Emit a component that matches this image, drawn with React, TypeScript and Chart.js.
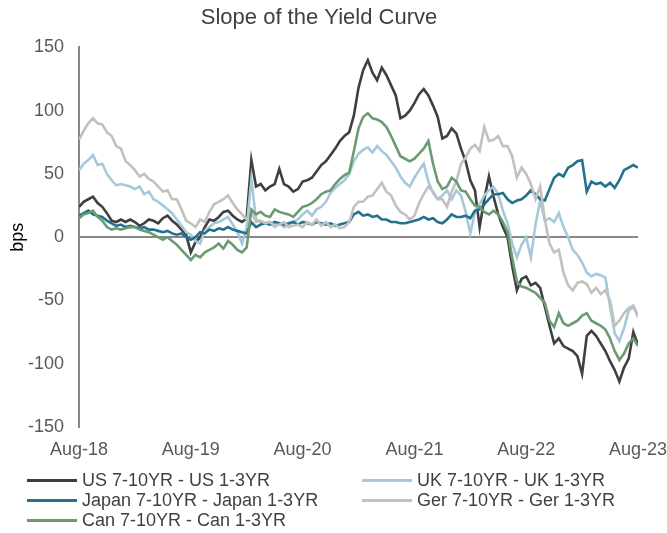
import React, { useEffect, useRef } from "react";
import { Chart, registerables } from "chart.js";

Chart.register(...registerables);

// ---------- text ----------
const TITLE = "Slope of the Yield Curve";
const Y_TITLE = "bps";
const X_TICK_LABELS = ["Aug-18", "Aug-19", "Aug-20", "Aug-21", "Aug-22", "Aug-23"];
const MONTHS_PER_TICK = 12;
const STEP_MONTHS = 0.5; // readings every half month from Aug-18 to Aug-23

// ---------- data (bps), one reading per half month ----------
const US = [
  24, 28, 30, 32, 27, 24, 19, 13, 12, 14,
  12, 14, 12, 9, 11, 14, 13, 11, 15, 17,
  13, 10, 6, 2, -12, -4, 0, 8, 14, 13,
  16, 20, 21, 17, 14, 12, 15, 61, 40, 42,
  37, 40, 42, 54, 42, 40, 36, 38, 44, 45,
  47, 52, 57, 60, 65, 70, 76, 80, 83, 96,
  118, 132, 140, 130, 124, 134, 128, 120, 112, 94,
  96, 100, 106, 113, 117, 112, 104, 95, 78, 80,
  86, 82, 70, 60, 45, 37, 8, 30, 48, 32,
  18, 8, 0, -23, -42, -33, -31, -38, -36, -40,
  -55, -70, -84, -80, -86, -88, -90, -94, -108, -78,
  -74, -78, -84, -90, -98, -105, -114, -103, -96, -75,
  -85,
];
const UK = [
  53, 58, 61, 65, 57, 58, 50, 45, 41, 42,
  41, 40, 38, 40, 34, 36, 30, 28, 25, 22,
  19, 14, 9, 4, 2, -3, -5, 5, 8, 11,
  12, 14, 16, 10, 4, -5, 8, 46, 14, 12,
  11, 12, 8, 11, 8, 10, 12, 14, 18, 21,
  17, 22, 24, 28, 35, 39, 42, 45, 50, 60,
  66, 69, 71, 67, 72, 68, 65, 60, 55, 48,
  43, 40, 47, 53, 58, 44, 35, 30, 33, 37,
  30, 37, 33, 20, 3, 20, 26, 33, 37, 40,
  34, 21, 11, -5, -16, -6, 0, -16, 10, 29,
  13, 15, 12, 19, 8, 0, -10, -14, -20, -28,
  -31, -29, -30, -32, -55, -76, -82, -72, -58, -55,
  -63,
];
const JAPAN = [
  17, 19, 21, 18, 17, 16, 13, 11, 9, 10,
  8, 9, 8, 7, 8, 6, 6, 5, 4, 5,
  3, 2, 3, 0, -2, 0, 4, 3, 6, 5,
  7, 6, 8, 6, 5, 4, 3, 12, 8, 10,
  11, 10, 12, 11, 10, 11, 12, 10, 12, 11,
  10, 12, 11, 10, 11, 9, 10, 11, 12, 18,
  20, 17, 18, 16, 17, 14, 14, 12, 12, 11,
  11, 12, 13, 14, 16, 14, 15, 12, 11, 14,
  18, 16, 16, 17, 15, 21, 22, 26, 30, 34,
  34, 35, 30, 27, 29, 30, 33, 37, 34, 30,
  29, 38, 47, 50, 48, 55, 57, 60, 61, 36,
  44, 42, 43, 40, 43, 39, 45, 53, 55, 57,
  55,
];
const GER = [
  77, 84, 90, 94, 90, 89, 83, 80, 72, 70,
  60, 57, 53, 48, 50, 46, 44, 40, 36, 37,
  30, 30, 22, 13, 11, 8, 14, 12, 20, 26,
  28, 30, 33, 27, 22, 18, 14, 20, 12, 13,
  11, 12, 9, 10, 12, 8, 9, 10, 8, 12,
  10, 14, 9, 12, 8, 10, 7, 8, 12, 24,
  28, 28, 32, 33, 38, 43, 36, 33, 25, 20,
  18, 14, 17, 27, 34, 40, 36, 30, 30, 24,
  36, 44, 58, 63, 70, 73, 68, 87, 76, 77,
  80, 72, 72, 64, 47, 55, 50, 42, 30, 40,
  14, -5, -12, -10, -28, -38, -42, -36, -35, -37,
  -44, -40, -45, -42, -50, -70, -66, -60, -56, -54,
  -62,
];
const CAN = [
  15, 18, 19, 21, 16, 13, 8, 6, 7, 6,
  7, 8, 8, 6, 5, 4, 2, 0, -2, 0,
  -3, -6, -10, -14, -18, -14, -16, -12, -10, -8,
  -5, -9, -3, -6, -10, -12, -8, 22, 18, 20,
  17, 16, 22, 20, 19, 18, 16, 20, 24, 25,
  27, 30, 34, 36, 37, 42, 46, 49, 51, 68,
  86, 95, 98, 94, 93, 91, 87, 80, 72, 64,
  62, 60, 62, 66, 70, 76, 58, 44, 38, 40,
  47, 44, 37, 36, 30, 25, 24, 20, 18, 21,
  18, 12, 4, -16, -35, -39, -40, -42, -44, -48,
  -52, -66, -71, -60, -68, -70, -68, -66, -62, -60,
  -66, -68, -70, -73, -80, -90, -97, -92, -84, -80,
  -86,
];

// legend order (row by row, two columns) and drawing order (lower = on top)
const SERIES = [
  { label: "US 7-10YR - US 1-3YR", data: US, color: "#3f3f3f", order: 4 },
  { label: "UK 7-10YR - UK 1-3YR", data: UK, color: "#a5c9da", order: 3 },
  { label: "Japan 7-10YR - Japan 1-3YR", data: JAPAN, color: "#23718e", order: 2 },
  { label: "Ger 7-10YR - Ger 1-3YR", data: GER, color: "#c1c1c1", order: 1 },
  { label: "Can 7-10YR - Can 1-3YR", data: CAN, color: "#6b9a73", order: 0 },
];

const FONT = "'Liberation Sans', Arial, Helvetica, sans-serif";
const TEXT = "#595959";
const AXIS = "#878787";

export default function App() {
  const ref = useRef<HTMLCanvasElement | null>(null);

  useEffect(() => {
    if (!ref.current) return;
    const chart = new Chart(ref.current, {
      type: "line",
      data: {
        datasets: SERIES.map((s) => ({
          label: s.label,
          data: s.data.map((v, i) => ({ x: i * STEP_MONTHS, y: v })),
          borderColor: s.color,
          backgroundColor: s.color,
          borderWidth: 2.6,
          pointRadius: 0,
          tension: 0,
          fill: false,
          order: s.order,
        })),
      },
      options: {
        animation: false,
        responsive: false,
        maintainAspectRatio: false,
        layout: { padding: { top: 0, left: 0, right: 29, bottom: 66 } },
        plugins: {
          legend: { display: false },
          tooltip: { enabled: false },
          title: {
            display: true,
            text: TITLE,
            color: "#404040",
            font: { family: FONT, size: 22, weight: "normal" },
            padding: { top: 5, bottom: 16 },
          },
        },
        scales: {
          x: {
            type: "linear",
            min: 0,
            max: MONTHS_PER_TICK * (X_TICK_LABELS.length - 1),
            grid: { display: false, drawTicks: false },
            border: { display: false },
            ticks: {
              stepSize: MONTHS_PER_TICK,
              autoSkip: false,
              maxRotation: 0,
              minRotation: 0,
              padding: 12,
              color: TEXT,
              font: { family: FONT, size: 18 },
              callback: (v: any) => X_TICK_LABELS[Math.round(Number(v) / MONTHS_PER_TICK)] ?? "",
            },
            afterFit: (s: any) => {
              s.height = 40;
              s.paddingLeft = 0;
              s.paddingRight = 0;
            },
          },
          y: {
            min: -150,
            max: 150,
            grid: {
              drawTicks: false,
              lineWidth: 2,
              color: (ctx: any) => (ctx.tick && ctx.tick.value === 0 ? AXIS : "rgba(0,0,0,0)"),
            },
            border: { display: true, color: AXIS, width: 2 },
            ticks: {
              stepSize: 50,
              padding: 15,
              color: TEXT,
              font: { family: FONT, size: 18 },
            },
            title: {
              display: true,
              text: Y_TITLE,
              color: "#000000",
              font: { family: FONT, size: 18 },
              padding: { top: 7, bottom: 0 },
            },
            afterFit: (s: any) => {
              s.width = 79;
            },
          },
        },
      },
    });
    return () => chart.destroy();
  }, []);

  const rows = [SERIES.slice(0, 2), SERIES.slice(2, 4), SERIES.slice(4, 5)];

  return (
    <div style={{ position: "absolute", left: 0, top: 0, width: 667, height: 533, background: "#fff" }}>
      <canvas ref={ref} width={667} height={533} style={{ width: 667, height: 533, display: "block" }} />
      {rows.map((row, r) =>
        row.map((s, c) => (
          <div
            key={s.label}
            style={{
              position: "absolute",
              left: c === 0 ? 27 : 362,
              top: 470 + r * 20,
              height: 20,
              display: "flex",
              alignItems: "center",
              fontFamily: FONT,
              fontSize: 18,
              color: "#404040",
              whiteSpace: "nowrap",
            }}
          >
            <span style={{ display: "inline-block", width: 50, height: 3, background: s.color, marginRight: 5 }} />
            <span>{s.label}</span>
          </div>
        ))
      )}
    </div>
  );
}
